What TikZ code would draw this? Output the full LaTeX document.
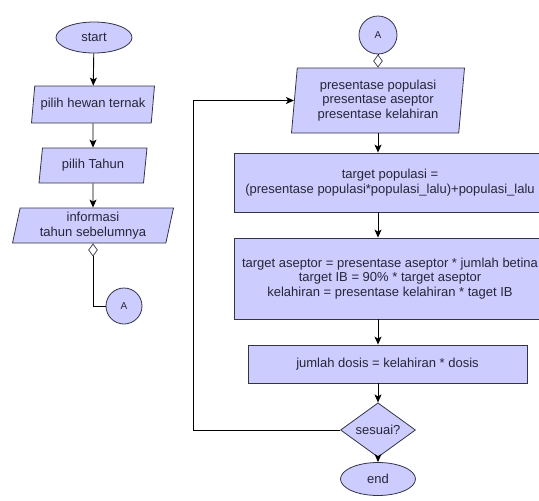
\documentclass[tikz,border=0pt]{standalone}
\usepackage{fontspec}
\setmainfont{Liberation Sans}
\usetikzlibrary{arrows.meta}
\usetikzlibrary{shapes.geometric}

\definecolor{boxfill}{RGB}{204,204,255}
\definecolor{boxline}{RGB}{52,52,72}
\definecolor{boxtext}{RGB}{38,38,56}

\begin{document}
\begin{tikzpicture}[x=1pt, y=-1pt,
  every node/.style={font=\fontsize{13}{14.5}\selectfont, text=boxtext, inner sep=0pt, align=center},
  terminal/.style={shape=ellipse, draw=boxline, fill=boxfill, line width=0.8pt},
  inputbox/.style={shape=trapezium, trapezium stretches body, draw=boxline, fill=boxfill, line width=0.8pt},
  procbox/.style={shape=rectangle, draw=boxline, fill=boxfill, line width=0.8pt},
  decision/.style={shape=diamond, draw=boxline, fill=boxfill, line width=0.8pt},
  connector/.style={shape=circle, draw=boxline, fill=boxfill, line width=0.8pt, font=\fontsize{10}{12}\selectfont},
  joint/.style={shape=diamond, draw=boxline, fill=white, line width=0.7pt, minimum width=9pt, minimum height=12pt},
  flow/.style={line width=0.9pt, -{Stealth[length=8pt, width=7pt, inset=2pt]}},
  plain/.style={line width=0.9pt}]

\clip (0,0) rectangle (539,501);

% left column
\node (start) [terminal, minimum width=76pt, minimum height=31pt] at (94, 37.5) {start};
\node (hewan) [inputbox, trapezium left angle=75, trapezium right angle=105, minimum width=123pt, minimum height=37pt] at (93, 104.5) {pilih hewan ternak};
\node (tahun) [inputbox, trapezium left angle=74, trapezium right angle=106, minimum width=108pt, minimum height=35pt] at (93, 165.5) {pilih Tahun};
\node (info) [inputbox, trapezium left angle=74, trapezium right angle=106, minimum width=161pt, minimum height=35pt] at (93, 225.5) {informasi\\tahun sebelumnya};
\node (jointa) [joint] at (93, 250) {};
\node (conout) [connector, minimum size=36pt] at (124, 306) {A};

% right column
\node (conin) [connector, minimum size=38pt] at (378, 35) {A};
\node (jointb) [joint] at (378, 61) {};
\node (input) [inputbox, trapezium left angle=82, trapezium right angle=98, minimum width=173pt, minimum height=65pt] at (378, 100.5) {presentase populasi\\presentase aseptor\\presentase kelahiran};
\node (target) [procbox, minimum width=312pt, minimum height=59pt] at (390, 182.5) {target populasi =\\(presentase populasi*populasi\_lalu)+populasi\_lalu};
\node (aseptor) [procbox, minimum width=312pt, minimum height=81pt] at (390, 278.5) {target aseptor = presentase aseptor * jumlah betina\\target IB = 90\% * target aseptor\\kelahiran = presentase kelahiran * taget IB};
\node (dosis) [procbox, minimum width=279pt, minimum height=38pt] at (387.5, 364) {jumlah dosis = kelahiran * dosis};
\node (cek) [decision, minimum width=75pt, minimum height=36pt] at (378, 430) {sesuai?};
\node (end) [terminal, minimum width=75pt, minimum height=33pt] at (378, 479) {end};

\coordinate (back) at (193, 430);

\draw (start) edge[flow] (hewan);
\draw (hewan) edge[flow] (tahun);
\draw (tahun) edge[flow] (info);
\draw[plain] (info) -- (jointa);
\draw[plain] (jointa.south) |- (conout.west);

\draw[plain] (conin) -- (jointb);
\draw[plain] (jointb) -- (input);
\draw[flow] (input.south) -- (input.south |- target.north);
\draw[flow] (target.south -| input.south) -- (input.south |- aseptor.north);
\draw[flow] (aseptor.south -| input.south) -- (input.south |- dosis.north);
\draw[flow] (dosis.south -| cek.north) -- (cek.north);
\draw (cek) edge[flow] (end);
\draw[flow] (cek.west) -- (back) |- (input.west);

\end{tikzpicture}
\end{document}
